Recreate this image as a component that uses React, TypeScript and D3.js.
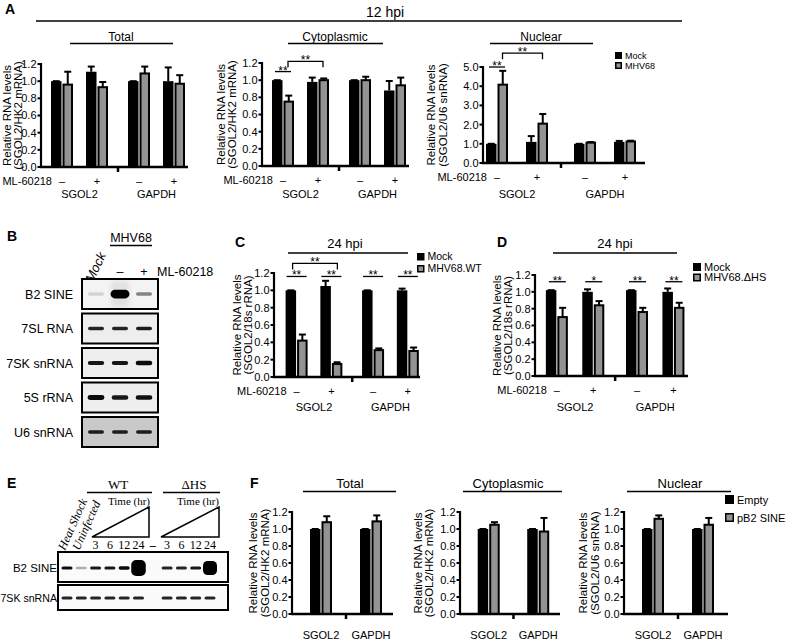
import React from "react";
import * as d3 from "d3";

const SANS = "'Liberation Sans', Arial, Helvetica, sans-serif";
const SERIF = "'Liberation Serif', 'Times New Roman', Times, serif";
const GRAY = "#939393";

// ---------- shared categories ----------
const GENES = ["SGOL2", "GAPDH"];
const ML_LABEL = "ML-60218";
const ML_SIGNS = ["–", "+", "–", "+"];
const TICKS_12 = [0, 0.2, 0.4, 0.6, 0.8, 1.0, 1.2];
const TICKS_5 = [0, 1, 2, 3, 4, 5];

// ---------- Panel A (12 hpi) ----------
const A_LEGEND = ["Mock", "MHV68"];
const A_TOTAL_MOCK = [1.0, 1.11, 1.0, 1.0];
const A_TOTAL_MOCK_ERR = [0.0, 0.06, 0.0, 0.16];
const A_TOTAL_MHV = [0.96, 0.93, 1.09, 0.97];
const A_TOTAL_MHV_ERR = [0.15, 0.06, 0.08, 0.1];
const A_CYTO_MOCK = [1.0, 0.98, 1.0, 0.88];
const A_CYTO_MOCK_ERR = [0.0, 0.05, 0.0, 0.11];
const A_CYTO_MHV = [0.75, 1.0, 1.0, 0.94];
const A_CYTO_MHV_ERR = [0.07, 0.02, 0.04, 0.09];
const A_NUC_MOCK = [1.0, 1.1, 1.0, 1.1];
const A_NUC_MOCK_ERR = [0.0, 0.3, 0.0, 0.05];
const A_NUC_MHV = [4.08, 2.05, 1.06, 1.12];
const A_NUC_MHV_ERR = [0.72, 0.5, 0.03, 0.04];

// ---------- Panel C (24 hpi, WT) ----------
const C_LEGEND = ["Mock", "MHV68.WT"];
const C_MOCK = [1.0, 1.05, 1.0, 1.0];
const C_MOCK_ERR = [0.0, 0.06, 0.0, 0.02];
const C_WT = [0.42, 0.15, 0.31, 0.3];
const C_WT_ERR = [0.07, 0.02, 0.02, 0.04];
const C_SIG = ["**", "**", "**", "**"];

// ---------- Panel D (24 hpi, ΔHS) ----------
const D_LEGEND = ["Mock", "MHV68.ΔHS"];
const D_MOCK = [1.02, 1.0, 1.02, 1.0];
const D_MOCK_ERR = [0.0, 0.03, 0.0, 0.04];
const D_DHS = [0.7, 0.84, 0.76, 0.81];
const D_DHS_ERR = [0.11, 0.05, 0.05, 0.06];
const D_SIG = ["**", "*", "**", "**"];

// ---------- Panel F ----------
const F_LEGEND = ["Empty", "pB2 SINE"];
const F_EMPTY = [1.0, 1.0];
const F_EMPTY_ERR = [0.0, 0.0];
const F_TOTAL_B2 = [1.08, 1.09];
const F_TOTAL_B2_ERR = [0.07, 0.07];
const F_CYTO_B2 = [1.05, 0.97];
const F_CYTO_B2_ERR = [0.03, 0.16];
const F_NUC_B2 = [1.12, 1.05];
const F_NUC_B2_ERR = [0.04, 0.08];

// ---------- Panel B blot ----------
const B_ROWS = ["B2 SINE", "7SL RNA", "7SK snRNA", "5S rRNA", "U6 snRNA"];
const B_LANES = ["Mock", "–", "+"];
const B_BAND_INT = [
  [0.12, 1.0, 0.45],
  [0.85, 0.85, 0.88],
  [0.9, 0.9, 0.95],
  [0.95, 0.9, 0.92],
  [0.85, 0.85, 0.85],
];
const B_BAND_SIZE = [
  [1.0, 2.5, 1.0],
  [1.0, 1.0, 1.0],
  [1.2, 1.2, 1.3],
  [1.4, 1.3, 1.3],
  [1.0, 1.0, 1.0],
];

// ---------- Panel E blot ----------
const E_LANES = ["Heat Shock", "Uninfected", "3", "6", "12", "24", "–", "3", "6", "12", "24"];
const E_ROWS = ["B2 SINE", "7SK snRNA"];
const E_B2_INT = [0.95, 0.3, 0.9, 0.9, 0.95, 1.0, 0, 0.85, 0.85, 0.9, 1.0];
const E_B2_SIZE = [1, 0.8, 1, 1, 1.1, 5, 0, 1, 1, 1, 4.4];
const E_7SK_INT = [0.85, 0.85, 0.85, 0.85, 0.85, 0.85, 0, 0.85, 0.85, 0.85, 0.85];
const E_7SK_SIZE = [1, 1, 1, 1, 1, 1, 0, 1, 1, 1, 1];

type Cfg = {
  ax: number;
  y0: number;
  yTop: number;
  width: number;
  yMax: number;
  ticks: number[];
  domain: [number, number];
  pos: number[];
  ctrl: number[];
  ctrlErr: number[];
  trt: number[];
  trtErr: number[];
  ylab: string[];
  ylabX: number[];
  signs?: string[];
  geneDy: number;
};

function scalesOf(c: Cfg) {
  const x = d3.scaleLinear().domain(c.domain).range([c.ax, c.ax + c.width]);
  const y = d3.scaleLinear().domain([0, c.yMax]).range([c.y0, c.yTop]);
  return { x, y };
}

function BarChart({ c }: { c: Cfg }) {
  const { x, y } = scalesOf(c);
  const fmt = d3.format(".1f");
  const n = c.pos.length;
  const pairs = n === 4 ? [[0, 1], [2, 3]] : [[0], [1]];
  const mid = n === 4 ? (c.pos[1] + c.pos[2]) / 2 : (c.pos[0] + c.pos[1]) / 2;
  const ylabY = (c.y0 + c.yTop) / 2;
  return (
    <g fontFamily={SANS}>
      {c.ylab.map((t, i) => (
        <text key={i} transform={`translate(${c.ylabX[i]},${ylabY}) rotate(-90)`} textAnchor="middle" fontSize={11.5}>
          {t}
        </text>
      ))}
      {c.ticks.map((t) => (
        <g key={t}>
          <line x1={c.ax - 3.5} x2={c.ax} y1={y(t)} y2={y(t)} stroke="#000" strokeWidth={2} />
          <text x={c.ax - 4.5} y={y(t)} dy="0.36em" textAnchor="end" fontSize={11}>
            {fmt(t)}
          </text>
        </g>
      ))}
      {c.pos.map((p, i) => {
        const cx = x(p);
        const v1 = c.ctrl[i], e1 = c.ctrlErr[i];
        const v2 = c.trt[i], e2 = c.trtErr[i];
        const bx = cx - 5.75, gx = cx + 5.75;
        return (
          <g key={i}>
            <line x1={bx} x2={bx} y1={y(v1)} y2={y(v1 + e1)} stroke="#000" strokeWidth={2} />
            <line x1={bx - 3.5} x2={bx + 3.5} y1={y(v1 + e1)} y2={y(v1 + e1)} stroke="#000" strokeWidth={2} />
            <rect x={cx - 11} y={y(v1)} width={10.5} height={c.y0 - y(v1)} fill="#000" />
            <line x1={gx} x2={gx} y1={y(v2)} y2={y(v2 + e2)} stroke="#000" strokeWidth={2} />
            <line x1={gx - 3.5} x2={gx + 3.5} y1={y(v2 + e2)} y2={y(v2 + e2)} stroke="#000" strokeWidth={2} />
            <rect x={cx + 1.5} y={y(v2)} width={8.5} height={c.y0 - y(v2)} fill={GRAY} stroke="#000" strokeWidth={2} />
          </g>
        );
      })}
      <line x1={c.ax} x2={c.ax} y1={c.y0 + 1} y2={c.yTop - 1} stroke="#000" strokeWidth={2.2} />
      <line x1={c.ax - 1} x2={c.ax + c.width} y1={c.y0} y2={c.y0} stroke="#000" strokeWidth={2.5} />
      <line x1={x(mid)} x2={x(mid)} y1={c.y0} y2={c.y0 + 5} stroke="#000" strokeWidth={2.5} />
      {c.signs && (
        <g fontSize={11}>
          <text x={x(c.pos[0]) - 10} y={c.y0 + 18} textAnchor="end">
            {ML_LABEL}
          </text>
          {c.signs.map((s, i) => (
            <text key={i} x={x(c.pos[i])} y={c.y0 + 18} textAnchor="middle">
              {s}
            </text>
          ))}
        </g>
      )}
      {pairs.map((pr, i) => {
        const cx = d3.mean(pr.map((k) => x(c.pos[k]))) as number;
        return (
          <text key={i} x={cx} y={c.y0 + c.geneDy} textAnchor="middle" fontSize={11}>
            {GENES[i]}
          </text>
        );
      })}
    </g>
  );
}

function SigLine({ x1, x2, y, text }: { x1: number; x2: number; y: number; text: string }) {
  return (
    <g>
      <line x1={x1} x2={x2} y1={y} y2={y} stroke="#000" strokeWidth={1.3} />
      <text x={(x1 + x2) / 2} y={y + 3} textAnchor="middle" fontSize={12} fontFamily={SANS}>
        {text}
      </text>
    </g>
  );
}

function Bracket({ x1, x2, y, text }: { x1: number; x2: number; y: number; text: string }) {
  return (
    <g>
      <path d={`M${x1},${y + 6}V${y}H${x2}V${y + 6}`} fill="none" stroke="#000" strokeWidth={1.3} />
      <text x={(x1 + x2) / 2} y={y + 3} textAnchor="middle" fontSize={12} fontFamily={SANS}>
        {text}
      </text>
    </g>
  );
}

function Legend({ x, y, labels, fs, sq, gap }: { x: number; y: number; labels: string[]; fs: number; sq: number; gap: number }) {
  return (
    <g fontFamily={SANS} fontSize={fs}>
      {labels.map((l, i) => (
        <g key={l} transform={`translate(${x},${y + i * gap})`}>
          <rect
            x={i === 0 ? 0 : 0.75}
            y={i === 0 ? 0 : 0.75}
            width={i === 0 ? sq : sq - 1.5}
            height={i === 0 ? sq : sq - 1.5}
            fill={i === 0 ? "#000" : GRAY}
            stroke="#000"
            strokeWidth={i === 0 ? 0 : 1.5}
          />
          <text x={sq + 3} y={sq} dy={-0.5}>
            {l}
          </text>
        </g>
      ))}
    </g>
  );
}

function Title({ x, y, text, fs, x1, x2, ly }: { x: number; y: number; text: string; fs: number; x1: number; x2: number; ly: number }) {
  return (
    <g>
      <text x={x} y={y} textAnchor="middle" fontSize={fs} fontFamily={SANS}>
        {text}
      </text>
      <line x1={x1} x2={x2} y1={ly} y2={ly} stroke="#000" strokeWidth={1.5} />
    </g>
  );
}

function Band({ cx, cy, w, h, op }: { cx: number; cy: number; w: number; h: number; op: number }) {
  if (op <= 0) return null;
  return <rect x={cx - w / 2} y={cy - h / 2} width={w} height={h} rx={Math.min(h / 2, w / 3)} fill="#000" opacity={op} filter="url(#blur)" />;
}

const POS4 = [0, 1, 2.2, 3.2];
const POS2 = [0, 1];

export default function App() {
  const aTotal: Cfg = {
    ax: 41, y0: 167, yTop: 64, width: 147, yMax: 1.2, ticks: TICKS_12, domain: [-0.6, 3.6], pos: POS4,
    ctrl: A_TOTAL_MOCK, ctrlErr: A_TOTAL_MOCK_ERR, trt: A_TOTAL_MHV, trtErr: A_TOTAL_MHV_ERR,
    ylab: ["Relative RNA levels", "(SGOL2/HK2 mRNA)"], ylabX: [11, 21.5], signs: ML_SIGNS, geneDy: 31,
  };
  const aCyto: Cfg = {
    ax: 262, y0: 166, yTop: 63, width: 147, yMax: 1.2, ticks: TICKS_12, domain: [-0.6, 3.6], pos: POS4,
    ctrl: A_CYTO_MOCK, ctrlErr: A_CYTO_MOCK_ERR, trt: A_CYTO_MHV, trtErr: A_CYTO_MHV_ERR,
    ylab: ["Relative RNA levels", "(SGOL2/HK2 mRNA)"], ylabX: [225, 236], signs: ML_SIGNS, geneDy: 32,
  };
  const aNuc: Cfg = {
    ax: 483, y0: 163, yTop: 67, width: 162, yMax: 5, ticks: TICKS_5, domain: [-0.35, 3.7], pos: POS4,
    ctrl: A_NUC_MOCK, ctrlErr: A_NUC_MOCK_ERR, trt: A_NUC_MHV, trtErr: A_NUC_MHV_ERR,
    ylab: ["Relative RNA levels", "(SGOL2/U6 snRNA)"], ylabX: [435, 447], signs: ML_SIGNS, geneDy: 35,
  };
  const cC: Cfg = {
    ax: 274, y0: 377, yTop: 273, width: 146, yMax: 1.2, ticks: TICKS_12, domain: [-0.65, 3.55], pos: POS4,
    ctrl: C_MOCK, ctrlErr: C_MOCK_ERR, trt: C_WT, trtErr: C_WT_ERR,
    ylab: ["Relative RNA levels", "(SGOL2/18s rRNA)"], ylabX: [241, 252], signs: ML_SIGNS, geneDy: 34,
  };
  const cD: Cfg = {
    ax: 535, y0: 376, yTop: 275, width: 153, yMax: 1.2, ticks: TICKS_12, domain: [-0.6, 3.6], pos: POS4,
    ctrl: D_MOCK, ctrlErr: D_MOCK_ERR, trt: D_DHS, trtErr: D_DHS_ERR,
    ylab: ["Relative RNA levels", "(SGOL2/18s rRNA)"], ylabX: [501, 512], signs: ML_SIGNS, geneDy: 35,
  };
  const fTotal: Cfg = {
    ax: 292, y0: 614, yTop: 512, width: 101, yMax: 1.2, ticks: TICKS_12, domain: [-0.58, 1.44], pos: POS2,
    ctrl: F_EMPTY, ctrlErr: F_EMPTY_ERR, trt: F_TOTAL_B2, trtErr: F_TOTAL_B2_ERR,
    ylab: ["Relative RNA levels", "(SGOL2/HK2 mRNA)"], ylabX: [257, 269], geneDy: 25,
  };
  const fCyto: Cfg = {
    ax: 460, y0: 614, yTop: 512, width: 100, yMax: 1.2, ticks: TICKS_12, domain: [-0.58, 1.44], pos: POS2,
    ctrl: F_EMPTY, ctrlErr: F_EMPTY_ERR, trt: F_CYTO_B2, trtErr: F_CYTO_B2_ERR,
    ylab: ["Relative RNA levels", "(SGOL2/HK2 mRNA)"], ylabX: [422, 433], geneDy: 25,
  };
  const fNuc: Cfg = {
    ax: 624, y0: 614, yTop: 512, width: 104, yMax: 1.2, ticks: TICKS_12, domain: [-0.58, 1.5], pos: POS2,
    ctrl: F_EMPTY, ctrlErr: F_EMPTY_ERR, trt: F_NUC_B2, trtErr: F_NUC_B2_ERR,
    ylab: ["Relative RNA levels", "(SGOL2/U6 snRNA)"], ylabX: [587, 599], geneDy: 25,
  };

  const sCyto = scalesOf(aCyto);
  const sNuc = scalesOf(aNuc);
  const sC = scalesOf(cC);
  const sD = scalesOf(cD);

  // Panel B layout
  const bLane = d3.scalePoint<number>().domain(B_LANES.map((_, i) => i)).range([96, 144]);
  const bRowY = d3.scalePoint<number>().domain(B_ROWS.map((_, i) => i)).range([279, 417]);
  // Panel E layout
  const eLane = d3.scalePoint<number>().domain(E_LANES.map((_, i) => i)).range([67, 210]);

  const letter = (t: string, x: number, y: number) => (
    <text x={x} y={y} fontSize={14} fontWeight="bold" fontFamily={SANS}>
      {t}
    </text>
  );

  return (
    <svg width={788} height={641} style={{ position: "absolute", left: 0, top: 0, background: "#fff" }} fontFamily={SANS}>
      <defs>
        <filter id="blur" x="-50%" y="-50%" width="200%" height="200%">
          <feGaussianBlur stdDeviation={0.7} />
        </filter>
        <filter id="blur2" x="-50%" y="-50%" width="200%" height="200%">
          <feGaussianBlur stdDeviation={2.5} />
        </filter>
      </defs>
      <rect width={788} height={641} fill="#fff" />

      {/* ---------------- Panel A ---------------- */}
      {letter("A", 5, 14)}
      <Title x={385} y={17} text="12 hpi" fs={14} x1={36} x2={682} ly={21} />
      <Title x={121} y={41} text="Total" fs={12} x1={70} x2={173} ly={43.5} />
      <Title x={335} y={41} text="Cytoplasmic" fs={12} x1={288} x2={383} ly={43.5} />
      <Title x={541} y={41} text="Nuclear" fs={12} x1={490} x2={593} ly={43.5} />
      <BarChart c={aTotal} />
      <BarChart c={aCyto} />
      <BarChart c={aNuc} />
      <SigLine x1={sCyto.x(POS4[0]) - 8} x2={sCyto.x(POS4[0]) + 8} y={sCyto.y(1.1)} text="**" />
      <Bracket x1={sCyto.x(POS4[0]) + 5} x2={sCyto.x(POS4[1]) + 5} y={sCyto.y(1.22)} text="**" />
      <SigLine x1={sNuc.x(POS4[0]) - 8} x2={sNuc.x(POS4[0]) + 8} y={sNuc.y(5.0)} text="**" />
      <Bracket x1={sNuc.x(POS4[0]) + 5.5} x2={sNuc.x(POS4[1]) + 5.5} y={sNuc.y(5.72)} text="**" />
      <Legend x={615} y={52} labels={A_LEGEND} fs={9} sq={7} gap={10} />

      {/* ---------------- Panel B ---------------- */}
      {letter("B", 7, 241)}
      <text x={131} y={242} textAnchor="middle" fontSize={12.5}>
        MHV68
      </text>
      <line x1={110} x2={152} y1={245.5} y2={245.5} stroke="#000" strokeWidth={1.3} />
      <text transform={`translate(${bLane(0)! - 3},283) rotate(-65)`} fontSize={13} fontStyle="italic">
        {B_LANES[0]}
      </text>
      <text x={bLane(1)} y={276} textAnchor="middle" fontSize={12.5}>
        {B_LANES[1]}
      </text>
      <text x={bLane(2)} y={276} textAnchor="middle" fontSize={12.5}>
        {B_LANES[2]}
      </text>
      <text x={157} y={276} fontSize={12.5}>
        {ML_LABEL}
      </text>
      {B_ROWS.map((r, ri) => {
        const top = bRowY(ri)!;
        const cy = top + 15;
        return (
          <g key={r}>
            <text x={73} y={cy + 4.5} textAnchor="end" fontSize={12.5}>
              {r}
            </text>
            <rect x={82} y={top} width={76} height={30} fill={ri === 4 ? "#c9c9c9" : ri === 0 ? "#f3f3f3" : "#eeeeee"} stroke="#000" strokeWidth={2} />
            {ri === 0 && <rect x={bLane(1)! - 9} y={top + 2} width={18} height={26} fill="#000" opacity={0.07} filter="url(#blur2)" />}
            {B_LANES.map((_, li) => {
              const s = B_BAND_SIZE[ri][li];
              return <Band key={li} cx={bLane(li)!} cy={cy} w={16 * (1 + (s - 1) * 0.12)} h={3.5 * s} op={B_BAND_INT[ri][li]} />;
            })}
          </g>
        );
      })}

      {/* ---------------- Panel C ---------------- */}
      {letter("C", 235, 247)}
      <Title x={345} y={248} text="24 hpi" fs={13} x1={288} x2={408} ly={253} />
      <BarChart c={cC} />
      {C_SIG.map((s, i) => (
        <SigLine key={i} x1={sC.x(POS4[i]) - 10} x2={sC.x(POS4[i]) + 10} y={sC.y(1.16)} text={s} />
      ))}
      <Bracket x1={sC.x(POS4[0]) - 4} x2={sC.x(POS4[1]) + 6} y={sC.y(1.31)} text="**" />
      <Legend x={417} y={253} labels={C_LEGEND} fs={10.5} sq={7.5} gap={12} />

      {/* ---------------- Panel D ---------------- */}
      {letter("D", 497, 247)}
      <Title x={615} y={248} text="24 hpi" fs={13} x1={553} x2={677} ly={253} />
      <BarChart c={cD} />
      {D_SIG.map((s, i) => (
        <SigLine key={i} x1={sD.x(POS4[i]) - 8} x2={sD.x(POS4[i]) + 9} y={sD.y(1.12)} text={s} />
      ))}
      <Legend x={693} y={263} labels={D_LEGEND} fs={11} sq={8} gap={10.5} />

      {/* ---------------- Panel E ---------------- */}
      {letter("E", 7, 488)}
      <g fontFamily={SERIF}>
        <text x={118} y={489} textAnchor="middle" fontSize={13}>
          WT
        </text>
        <line x1={87} x2={152} y1={492.5} y2={492.5} stroke="#000" strokeWidth={1.5} />
        <text x={194} y={489} textAnchor="middle" fontSize={13}>
          ΔHS
        </text>
        <line x1={163} x2={220} y1={492.5} y2={492.5} stroke="#000" strokeWidth={1.5} />
        <text x={129} y={505} textAnchor="middle" fontSize={11}>
          Time (hr)
        </text>
        <text x={198} y={505} textAnchor="middle" fontSize={11}>
          Time (hr)
        </text>
        <path d="M92,537L149,507V537Z" fill="none" stroke="#000" strokeWidth={1.5} />
        <path d="M161,537L219,507V537Z" fill="none" stroke="#000" strokeWidth={1.5} />
        <text transform={`translate(${eLane(0)! - 2},551) rotate(-66)`} fontSize={12} fontStyle="italic">
          {E_LANES[0]}
        </text>
        <text transform={`translate(${eLane(1)! - 2},551) rotate(-66)`} fontSize={12} fontStyle="italic">
          {E_LANES[1]}
        </text>
        {E_LANES.slice(2).map((l, i) => (
          <text key={i} x={eLane(i + 2)} y={549} textAnchor="middle" fontSize={12} fontWeight={l === "–" ? "bold" : "normal"}>
            {l}
          </text>
        ))}
      </g>
      {E_ROWS.map((r, ri) => {
        const top = ri === 0 ? 552 : 585;
        const h = ri === 0 ? 30 : 25;
        const cy = top + h / 2 + (ri === 0 ? 1 : 0.5);
        const ints = ri === 0 ? E_B2_INT : E_7SK_INT;
        const sizes = ri === 0 ? E_B2_SIZE : E_7SK_SIZE;
        return (
          <g key={r}>
            <text x={57} y={cy + 4} textAnchor="end" fontSize={ri === 0 ? 11.5 : 10.6}>
              {r}
            </text>
            <rect x={58} y={top} width={170} height={h} fill="#fbfbfb" stroke="#000" strokeWidth={2} />
            {E_LANES.map((_, li) => {
              const s = sizes[li];
              return <Band key={li} cx={eLane(li)!} cy={cy} w={11 * (1 + Math.max(0, s - 1) * 0.08)} h={3.2 * s} op={ints[li]} />;
            })}
          </g>
        );
      })}

      {/* ---------------- Panel F ---------------- */}
      {letter("F", 250, 488)}
      <Title x={350} y={488} text="Total" fs={13} x1={303} x2={396} ly={491.5} />
      <Title x={508} y={488} text="Cytoplasmic" fs={13} x1={463} x2={562} ly={491.5} />
      <Title x={680} y={488} text="Nuclear" fs={13} x1={627} x2={731} ly={491.5} />
      <BarChart c={fTotal} />
      <BarChart c={fCyto} />
      <BarChart c={fNuc} />
      <Legend x={725} y={495} labels={F_LEGEND} fs={11} sq={9} gap={18} />
    </svg>
  );
}
